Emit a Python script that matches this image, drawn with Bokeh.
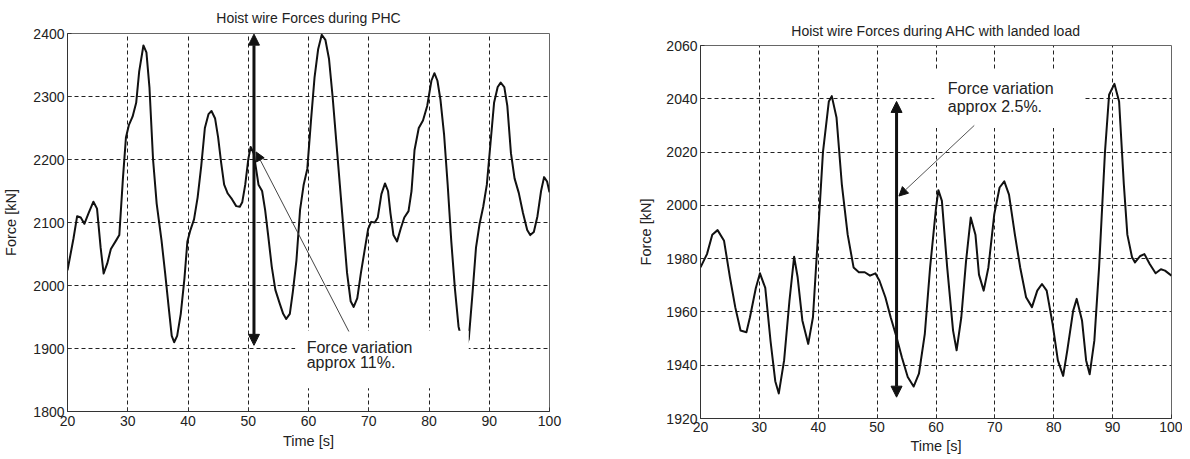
from bokeh.plotting import figure
from bokeh.layouts import row
from bokeh.models import Range1d, FixedTicker, BoxAnnotation, Arrow, NormalHead, Label
from bokeh.embed import file_html
from bokeh.resources import INLINE

# ---------------- data ----------------
time_ticks = [20, 30, 40, 50, 60, 70, 80, 90, 100]
phc_force_ticks = [1800, 1900, 2000, 2100, 2200, 2300, 2400]
ahc_force_ticks = [1920, 1940, 1960, 1980, 2000, 2020, 2040, 2060]

phc_time = [20, 21.0, 21.6, 22.2, 22.8, 23.5, 24.3, 24.9, 25.5, 26.0, 26.6, 27.2, 28.1, 28.6,
            29.2, 29.7, 30.2, 30.8, 31.4, 31.9, 32.6, 33.1, 33.6, 34.2, 34.8, 35.6, 36.2, 36.8,
            37.3, 37.7, 38.2, 38.8, 39.4, 39.9, 40.4, 41.0, 41.6, 42.2, 42.8, 43.4, 43.9, 44.5,
            45.0, 45.5, 46.0, 46.6, 47.3, 48.0, 48.6, 49.0, 49.5, 50.0, 50.4, 50.9, 51.3, 51.7,
            52.3, 52.8, 53.3, 53.9, 54.5, 55.2, 55.8, 56.3, 56.9, 57.4, 58.0, 58.6, 59.2, 59.8,
            60.4, 61.0, 61.6, 62.2, 62.8, 63.4, 64.0, 64.6, 65.2, 65.8, 66.4, 67.0, 67.5, 68.1,
            68.7, 69.3, 69.9, 70.4, 71.0, 71.5, 72.1, 72.7, 73.2, 73.6, 74.1, 74.7, 75.3, 75.9,
            76.6, 77.1, 77.6, 78.3, 79.0, 79.7, 80.4, 80.9, 81.4, 81.9, 82.5, 83.1, 83.7, 84.3,
            84.9, 85.5, 86.0, 86.6, 87.2, 87.8, 88.4, 89.0, 89.6, 90.2, 90.8, 91.4, 91.9, 92.5,
            93.0, 93.6, 94.2, 94.9, 95.6, 96.3, 96.8, 97.4, 98.0, 98.6, 99.1, 99.6, 100]
phc_force = [2024, 2075, 2110, 2108, 2098, 2115, 2133, 2122, 2060, 2019, 2035, 2058, 2072, 2080,
             2170, 2235, 2255, 2268, 2290, 2340, 2381, 2370, 2315, 2200, 2130, 2072, 2020, 1965,
             1920, 1910, 1920, 1955, 2010, 2070, 2088, 2105, 2140, 2190, 2250, 2272, 2277, 2265,
             2235, 2195, 2160, 2146, 2137, 2126, 2125, 2132, 2160, 2200, 2220, 2210, 2185, 2160,
             2150, 2120, 2080, 2030, 1993, 1972, 1955, 1947, 1955, 1990, 2040, 2120, 2160, 2185,
             2260, 2330, 2375, 2398, 2390, 2360, 2300, 2230, 2160, 2090, 2020, 1975, 1966, 1980,
             2020, 2055, 2090, 2101, 2100, 2108, 2145, 2162, 2150, 2115, 2080, 2070, 2090, 2108,
             2118, 2150, 2215, 2250, 2262, 2285, 2325, 2337, 2325, 2295, 2240, 2160, 2070, 1995,
             1935, 1910, 1900, 1915, 1985, 2060, 2098, 2125, 2160, 2225, 2290, 2315, 2322, 2315,
             2285, 2210, 2170, 2147, 2115, 2088, 2080, 2085, 2110, 2150, 2172, 2165, 2148]

ahc_time = [20, 21.1, 22.0, 22.9, 24.0, 25.0, 25.9, 26.8, 27.8, 28.4, 29.4, 30.1, 31.0, 31.9,
            32.7, 33.3, 34.2, 35.1, 35.9, 36.5, 37.3, 38.3, 39.1, 39.9, 40.8, 41.8, 42.3, 43.1,
            44.0, 45.0, 46.0, 46.9, 47.9, 48.8, 49.7, 50.4, 51.4, 52.3, 53.3, 54.2, 55.2, 56.2,
            57.1, 58.1, 59.0, 60.0, 60.4, 61.0, 61.9, 62.9, 63.5, 64.3, 65.1, 65.9, 66.7, 67.3,
            68.1, 68.9, 69.9, 70.8, 71.6, 72.4, 73.4, 74.3, 75.3, 76.3, 77.2, 78.0, 78.8, 79.8,
            80.7, 81.6, 82.3, 83.3, 83.9, 84.8, 85.5, 86.1, 86.9, 87.7, 88.7, 89.4, 90.3, 91.1,
            91.9, 92.5, 93.3, 93.8, 94.7, 95.4, 96.3, 97.3, 98.2, 98.9, 100]
ahc_force = [1976.7, 1981.7, 1989, 1990.7, 1986.7, 1973, 1961.8, 1953, 1952.4, 1958, 1969, 1974.5,
             1969, 1949, 1934, 1929.4, 1941.8, 1964, 1980.7, 1973, 1956.8, 1948, 1958, 1986.7,
             2020, 2039, 2041, 2033, 2008, 1989, 1976.7, 1974.9, 1974.9, 1973.6, 1974.5, 1971.7,
             1965.5, 1958, 1950.5, 1943, 1935.6, 1932, 1936.8, 1951.8, 1976.7, 1999, 2005.7,
             2001.7, 1976.7, 1953, 1945.6, 1958, 1979, 1995.4, 1989, 1974, 1968, 1976.7, 1996.7,
             2006.7, 2009, 2004, 1989, 1976.7, 1965.5, 1961.8, 1968, 1970.5, 1968, 1955.5, 1941.8,
             1936, 1945.6, 1960.5, 1964.9, 1956.8, 1941.8, 1936.6, 1949.3, 1976.7, 2020, 2041.5,
             2045.6, 2039, 2008, 1989, 1980.5, 1978.6, 1981, 1981.7, 1978, 1974.5, 1976, 1975.5,
             1973.6]

FONT = "Liberation Sans"
TXT = "#222222"


def style(p, yticks):
    p.xaxis.ticker = FixedTicker(ticks=time_ticks)
    p.yaxis.ticker = FixedTicker(ticks=yticks)
    for ax in (p.xaxis[0], p.yaxis[0]):
        ax.major_tick_in = 4
        ax.major_tick_out = 0
        ax.minor_tick_line_color = None
        ax.major_tick_line_color = "#333333"
        ax.axis_line_color = "#333333"
        ax.major_label_text_font = FONT
        ax.major_label_text_font_size = "14px"
        ax.major_label_text_color = TXT
        ax.axis_label_text_font = FONT
        ax.axis_label_text_font_size = "14.5px"
        ax.axis_label_text_font_style = "normal"
        ax.axis_label_text_color = TXT
        ax.major_label_standoff = 3
    p.grid.grid_line_color = "#222222"
    p.grid.grid_line_dash = "4 3"
    p.grid.grid_line_width = 1
    p.outline_line_color = "#666666"
    p.title.text_font = FONT
    p.title.text_font_size = "14px"
    p.title.text_font_style = "normal"
    p.title.text_color = TXT
    p.title.align = "center"
    p.background_fill_color = "white"
    p.border_fill_color = "white"


# ---------------- left: PHC ----------------
p1 = figure(title="Hoist wire Forces during PHC", width=628, height=451,
            x_range=Range1d(20, 100), y_range=Range1d(1800, 2400),
            min_border_left=67, min_border_right=79, min_border_top=33, min_border_bottom=40,
            output_backend="svg", toolbar_location=None, frame_align=False,
            x_axis_label="Time [s]", y_axis_label="Force [kN]")
style(p1, phc_force_ticks)
p1.title.standoff = 15
p1.xaxis.major_label_standoff = 4
p1.xaxis.axis_label_standoff = 4
p1.yaxis.axis_label_standoff = 11
p1.line(phc_time, phc_force, line_width=2, color="#111111", line_join="round")
p1.add_layout(BoxAnnotation(left=57.8, right=86.6, bottom=1837, top=1928,
                            fill_color="white", fill_alpha=1, line_color=None))
p1.add_layout(Arrow(x_start=50.95, y_start=1905, x_end=50.95, y_end=2399,
                    line_width=3, line_color="#111111",
                    start=NormalHead(size=11, fill_color="#111111", line_color="#111111"),
                    end=NormalHead(size=11, fill_color="#111111", line_color="#111111")))
p1.add_layout(Arrow(x_start=66.7, y_start=1927, x_end=51.3, y_end=2212,
                    line_width=1, line_color="#444444",
                    end=NormalHead(size=9, fill_color="#111111", line_color="#111111")))
p1.add_layout(Label(x=59.7, y=1901, text="Force variation", text_font=FONT,
                    text_font_size="16px", text_baseline="middle", text_color=TXT))
p1.add_layout(Label(x=59.7, y=1877, text="approx 11%.", text_font=FONT,
                    text_font_size="16px", text_baseline="middle", text_color=TXT))

# ---------------- right: AHC ----------------
p2 = figure(title="Hoist wire Forces during AHC with landed load", width=554, height=458,
            x_range=Range1d(20, 100), y_range=Range1d(1920, 2060),
            min_border_left=72, min_border_right=11, min_border_top=45, min_border_bottom=40,
            output_backend="svg", toolbar_location=None, frame_align=False,
            x_axis_label="Time [s]", y_axis_label="Force [kN]")
style(p2, ahc_force_ticks)
p2.title.standoff = 14
p2.xaxis.major_label_standoff = 3
p2.xaxis.axis_label_standoff = 3
p2.yaxis.axis_label_standoff = 9
p2.line(ahc_time, ahc_force, line_width=2, color="#111111", line_join="round")
p2.add_layout(BoxAnnotation(left=59.7, right=85, bottom=2029, top=2050.5,
                            fill_color="white", fill_alpha=1, line_color=None))
p2.add_layout(Arrow(x_start=53.3, y_start=1928, x_end=53.3, y_end=2039,
                    line_width=3, line_color="#111111",
                    start=NormalHead(size=11, fill_color="#111111", line_color="#111111"),
                    end=NormalHead(size=11, fill_color="#111111", line_color="#111111")))
p2.add_layout(Arrow(x_start=66.5, y_start=2030, x_end=53.7, y_end=2003.5,
                    line_width=1, line_color="#555555",
                    end=NormalHead(size=9, fill_color="#111111", line_color="#111111")))
p2.add_layout(Label(x=62.0, y=2044, text="Force variation", text_font=FONT,
                    text_font_size="16px", text_baseline="middle", text_color=TXT))
p2.add_layout(Label(x=62.0, y=2037.2, text="approx 2.5%.", text_font=FONT,
                    text_font_size="16px", text_baseline="middle", text_color=TXT))

layout = row(p1, p2)
open("out.html", "w").write(file_html(layout, INLINE))
